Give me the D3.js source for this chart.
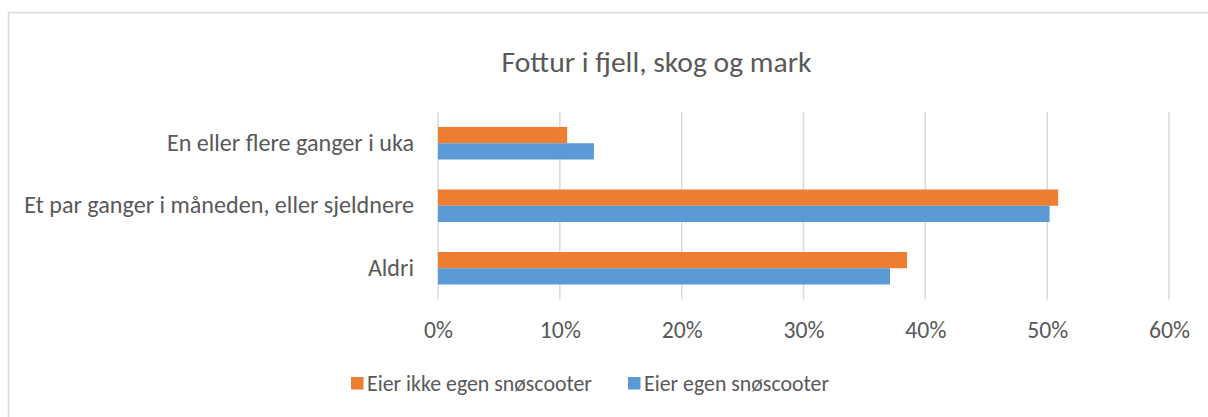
<!DOCTYPE html>
<html><head><meta charset="utf-8">
<script src="https://cdn.jsdelivr.net/npm/d3@7"></script>
<style>html,body{margin:0;padding:0;background:#fff;}svg{display:block;}</style>
</head><body>
<svg id="chart" width="1208" height="417"></svg>
<script>
const title = "Fottur i fjell, skog og mark";
const categories = ["En eller flere ganger i uka", "Et par ganger i måneden, eller sjeldnere", "Aldri"];
const seriesNames = ["Eier ikke egen snøscooter", "Eier egen snøscooter"];
const eierIkke = [10.6, 50.9, 38.5];
const eier = [12.8, 50.2, 37.1];
const colors = ["#ED7D31", "#5B9BD5"];
const ticks = [0, 10, 20, 30, 40, 50, 60];

const font = "Carlito, Calibri, Lato, 'Open Sans', sans-serif";
const textColor = "#595959";
const svg = d3.select("#chart");

// frame
svg.append("path").attr("d", "M8.5,417 V12.5 H1208").attr("fill", "none").attr("stroke", "#d9d9d9").attr("stroke-width", 1.5);

const x = d3.scaleLinear().domain([0, 60]).range([438, 1169]);
const y0 = d3.scaleBand().domain(categories).range([112, 299.5]).paddingInner(0.48).paddingOuter(0.24);
const y1 = d3.scaleBand().domain(seriesNames).range([0, y0.bandwidth()]);

// gridlines
svg.append("g").selectAll("line").data(ticks).join("line")
  .attr("x1", d => x(d)).attr("x2", d => x(d))
  .attr("y1", 112).attr("y2", 299.5)
  .attr("stroke", "#d9d9d9").attr("stroke-width", 1.5);

// bars
const data = categories.map((c, i) => ({c, vals: [eierIkke[i], eier[i]]}));
const g = svg.append("g").selectAll("g").data(data).join("g")
  .attr("transform", d => `translate(0,${y0(d.c)})`);
g.selectAll("rect").data(d => d.vals.map((v, j) => ({v, s: seriesNames[j], j}))).join("rect")
  .attr("x", x(0)).attr("y", d => y1(d.s))
  .attr("width", d => x(d.v) - x(0)).attr("height", y1.bandwidth())
  .attr("fill", d => colors[d.j]);

function fit(sel, w) {
  const n = sel.node(); const len = n.getComputedTextLength();
  const fs = parseFloat(sel.attr("font-size"));
  sel.attr("font-size", fs * w / len);
  return sel.attr("font-size");
}

// x axis labels
const xAxis = d3.axisBottom(x).tickValues(ticks).tickFormat(d => d + "%").tickSize(0).tickPadding(0);
const ax = svg.append("g").attr("transform", "translate(0,338)").call(xAxis);
ax.select(".domain").remove();
ax.selectAll("text").attr("font-family", font).attr("font-size", 20).attr("fill", textColor).attr("dy", 0);
const fsX = fit(ax.selectAll("text").filter(d => d === 60), 41);
ax.selectAll("text").attr("font-size", fsX);

// y axis labels
const yAxis = d3.axisLeft(y0).tickSize(0).tickPadding(0);
const ay = svg.append("g").attr("transform", "translate(414,0)").call(yAxis);
ay.select(".domain").remove();
ay.selectAll("text").attr("font-family", font).attr("font-size", 17).attr("fill", textColor);
const fsY = fit(ay.selectAll("text").filter(d => d === categories[1]), 390);
ay.selectAll("text").attr("font-size", fsY);

// title
const t = svg.append("text").attr("x", 656.5).attr("y", 72).attr("text-anchor", "middle")
  .attr("font-family", font).attr("font-size", 28).attr("fill", textColor).text(title);
fit(t, 310);

// legend
const legX = [351, 628];
const leg = svg.append("g").selectAll("g").data(seriesNames).join("g")
  .attr("transform", (d, i) => `translate(${legX[i]},377)`);
leg.append("rect").attr("width", 12.5).attr("height", 12.5).attr("fill", (d, i) => colors[i]);
const lt = leg.append("text").attr("x", 16).attr("y", 13.5).attr("font-family", font).attr("font-size", 17)
  .attr("fill", textColor).text(d => d);
const fsL = fit(d3.select(lt.nodes()[0]), 225);
lt.attr("font-size", fsL);
</script>
</body></html>
